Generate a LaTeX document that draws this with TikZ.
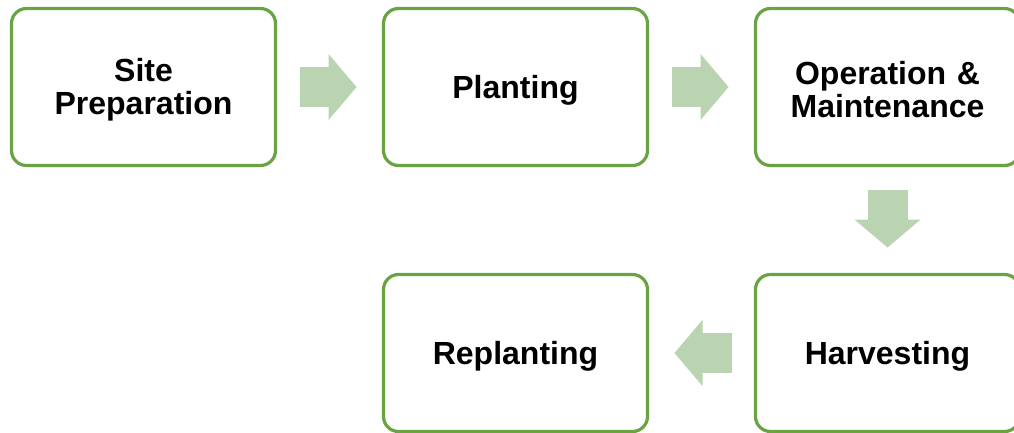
\documentclass[tikz,border=0pt]{standalone}
\usepackage{fontspec}
\setmainfont{Liberation Sans}
\usepackage{xcolor}
\usepackage{tikz}
\usetikzlibrary{arrows.meta,positioning,calc}
\definecolor{agvert}{HTML}{6AA343}
\definecolor{agvertpale}{HTML}{BAD4B1}
\definecolor{agnoir}{HTML}{000000}

\begin{document}
\begin{tikzpicture}[
  node distance=109pt and 108pt,
  etape/.style={rectangle,rounded corners=15pt,draw=agvert,line width=3.2pt,fill=white,
    minimum width=264pt,minimum height=157pt,text width=250pt,align=center,
    outer sep=0pt,inner sep=0pt,font=\fontsize{32}{33}\selectfont\bfseries,text=agnoir,
    execute at end node={\endgraf\vspace{-6pt}}},
  bloc/.style={agvertpale,line width=40pt,
    -{Triangle[length=28pt,width=66pt,line width=1pt]}}]
  \useasboundingbox (0,0) rectangle (1014pt,-432pt);
  \node[etape] (site) at (143.5pt,-87pt) {Site\\Preparation};
  \node[etape,right=of site] (plant) {Planting};
  \node[etape,right=of plant] (oper) {Operation \&\\Maintenance};
  \node[etape,below=of oper] (harv) {Harvesting};
  \node[etape,left=of harv] (replant) {Replanting};
  % fleches pleines entre les etapes
  \draw[bloc] ([xshift=24pt]site.east) -- ([xshift=-27pt]plant.west);
  \draw[bloc] ([xshift=24pt]plant.east) -- ([xshift=-27pt]oper.west);
  \draw[bloc] ([yshift=-24pt]oper.south) -- ([yshift=27pt]harv.north);
  \draw[bloc] ([xshift=-24pt]harv.west) -- ([xshift=27pt]replant.east);
\end{tikzpicture}
\end{document}
